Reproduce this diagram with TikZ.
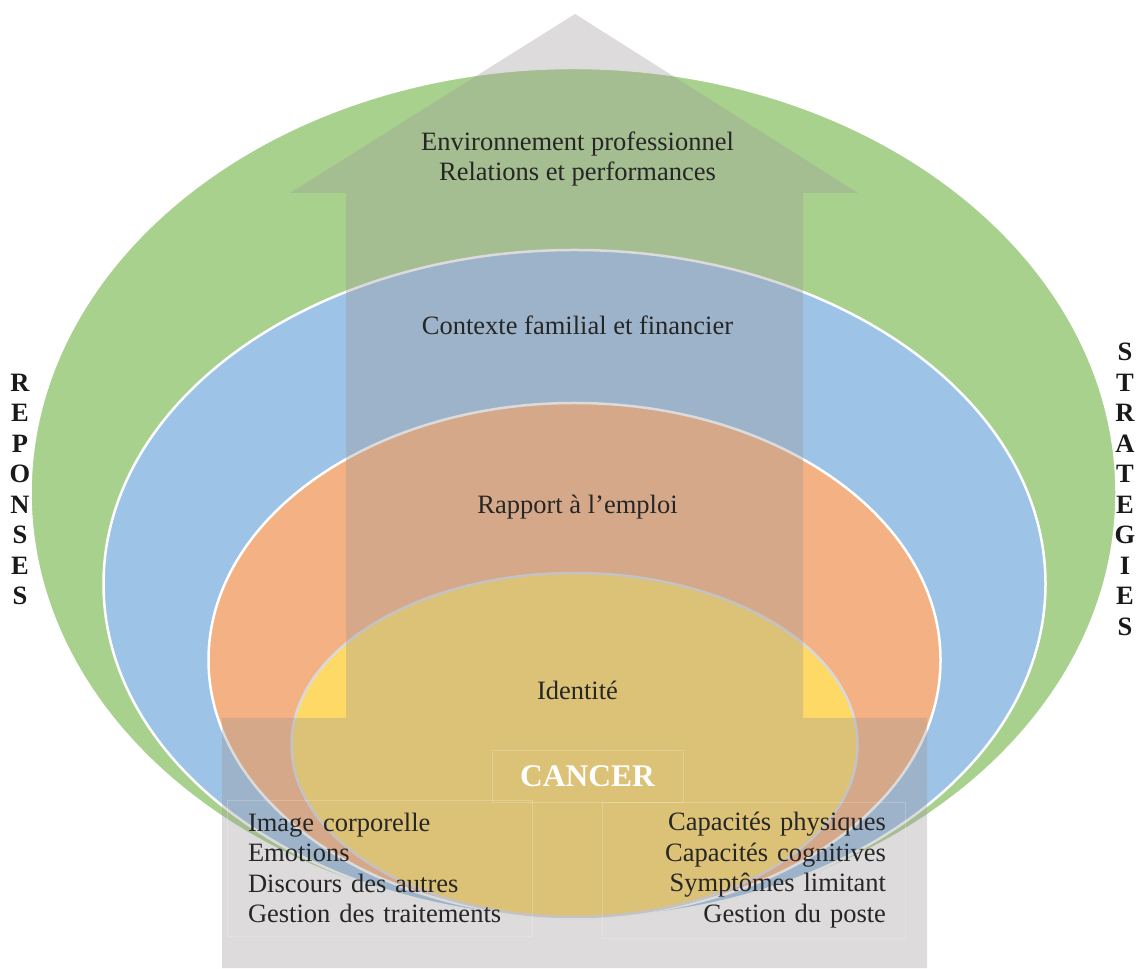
\documentclass[tikz,border=0pt]{standalone}
\usepackage{fontspec}
\setmainfont{Liberation Serif}
\usepackage{tikz}
\usetikzlibrary{shapes.geometric}
\definecolor{ringgreen}{RGB}{169,209,142}
\definecolor{ringblue}{RGB}{157,195,230}
\definecolor{ringorange}{RGB}{244,177,131}
\definecolor{ringyellow}{RGB}{255,217,102}
\definecolor{arrowgrey}{RGB}{157,152,152}
\tikzstyle{ring} = [ellipse, draw=white, line width=2.5pt, inner sep=0pt]
\tikzstyle{caption} = [font=\fontsize{26.5}{30.5}\selectfont, text=black!85, align=center]
\tikzstyle{listbox} = [rectangle, draw=white, draw opacity=0.2, line width=0.8pt, minimum height=136pt, font=\fontsize{26.5}{30.5}\selectfont, text=black!85]
\tikzstyle{vertical} = [font=\bfseries\fontsize{26.5}{30.5}\selectfont, text=black!90, align=center]

\begin{document}
\begin{tikzpicture}[x=1pt, y=1pt, node distance=180pt]
        \useasboundingbox (0,0) rectangle (1139,968);
        \node (work) [ring, fill=ringgreen, minimum width=1086pt, minimum height=850pt] at (573.5,475) {};
        \node (family) [ring, fill=ringblue, minimum width=942pt, minimum height=668pt] at (574.5,384) {};
        \node (job) [ring, fill=ringorange, minimum width=732pt, minimum height=514pt] at (574.5,308) {};
        \node (self) [ring, fill=ringyellow, draw=white!85!black, minimum width=566pt, minimum height=344pt] at (574.5,223) {};

        % the big arrow
        \fill [arrowgrey, fill opacity=0.35] (222,0) -- (222,250) -- (346,250) -- (346,775) -- (290,775) -- (575,954) -- (858,775) -- (803,775) -- (803,250) -- (927,250) -- (927,0) -- cycle;

        \node (cancer) [rectangle, draw=white, draw opacity=0.2, line width=0.8pt, minimum width=191pt, minimum height=52pt, text=white, font=\bfseries\fontsize{31.5}{36}\selectfont] at (587.5,192) {CANCER};
        \node (identite) [caption] at (577.5,278) {Identit\'e};
        \node (rapport) [caption, above of=identite, yshift=3pt] {Rapport à l’emploi};
        \node (contexte) [caption, above of=rapport, yshift=2pt] {Contexte familial et financier};
        \node (environ) [caption, above of=contexte, yshift=-14pt] {Environnement professionnel\\Relations et performances};

        \node (personal) [listbox, text width=263pt, inner xsep=21pt, align=left] at (379.5,100) {Image corporelle\\Emotions\\Discours des autres\\Gestion des traitements};
        \node (abilities) [listbox, text width=265pt, inner xsep=19pt, align=right] at (753.5,98) {Capacités physiques\\Capacités cognitives\\Symptômes limitant\\Gestion du poste};

        \node (reponses) [vertical] at (20,478.5) {R\\E\\P\\O\\N\\S\\E\\S};
        \node (strategies) [vertical] at (1125,478.5) {S\\T\\R\\A\\T\\E\\G\\I\\E\\S};
    \end{tikzpicture}
\end{document}
